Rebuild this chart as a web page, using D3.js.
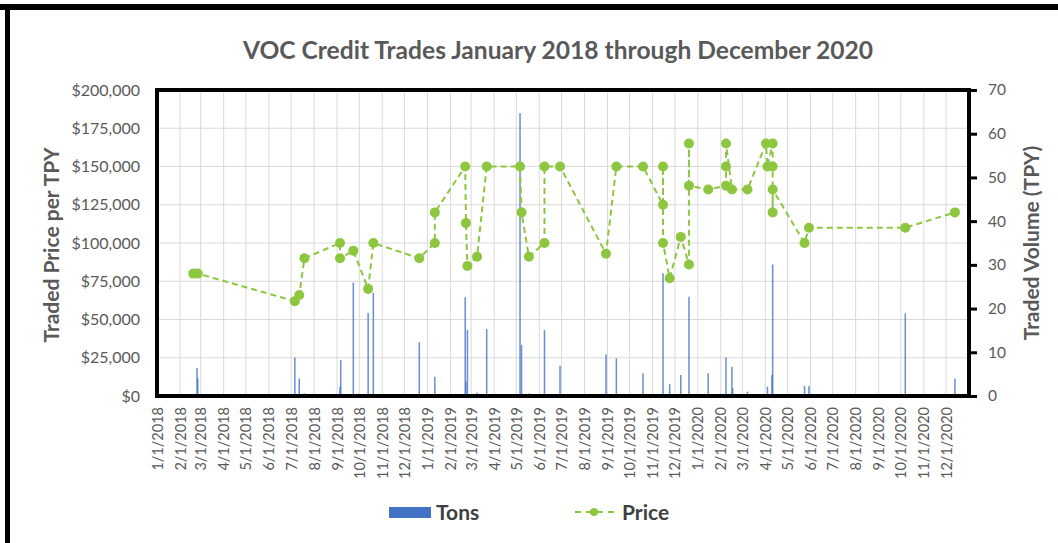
<!DOCTYPE html>
<html>
<head>
<meta charset="utf-8">
<script src="https://cdn.jsdelivr.net/npm/d3@7"></script>
<style>
  body { margin: 0; background: #fff; }
  text { font-family: Lato, "Open Sans", sans-serif; }
</style>
</head>
<body>
<div id="container"></div>
<script>
//DATA
// price points, in the order the line joins them
const priceDates = ["2018-02-19","2018-02-25","2018-07-06","2018-07-12","2018-07-19",
  "2018-09-05","2018-09-05","2018-09-23","2018-10-13","2018-10-20","2018-12-21",
  "2019-01-11","2019-01-11","2019-02-21","2019-02-22","2019-02-24","2019-03-09",
  "2019-03-22","2019-05-06","2019-05-08","2019-05-18","2019-06-08","2019-06-08",
  "2019-06-29","2019-08-30","2019-09-13","2019-10-19","2019-11-15","2019-11-15",
  "2019-11-15","2019-11-24","2019-12-09","2019-12-20","2019-12-20","2019-12-20",
  "2020-01-15","2020-02-08","2020-02-08","2020-02-08","2020-02-16","2020-03-08",
  "2020-04-02","2020-04-04","2020-04-11","2020-04-11","2020-04-11","2020-04-11",
  "2020-05-24","2020-05-30","2020-10-07","2020-12-13"];
const prices = [80000,80000,62000,66000,90000,
  100000,90000,95000,70000,100000,90000,
  100000,120000,150000,113000,85000,91000,
  150000,150000,120000,91000,100000,150000,
  150000,93000,150000,150000,125000,150000,
  100000,77000,104000,86000,165000,137500,
  135000,137500,150000,165000,135000,135000,
  165000,150000,165000,150000,120000,135000,
  100000,110000,110000,120000];

// traded tons
const tonDates = ["2018-02-24","2018-02-25","2018-07-06","2018-07-12","2018-07-19",
  "2018-09-06","2018-09-05","2018-09-23","2018-10-13","2018-10-20","2018-12-21",
  "2019-01-11","2019-02-21","2019-02-24","2019-02-22","2019-03-09","2019-03-22",
  "2019-05-06","2019-05-08","2019-05-18","2019-06-08","2019-06-29","2019-08-30",
  "2019-09-13","2019-10-19","2019-11-15","2019-11-24","2019-12-09","2019-12-20",
  "2020-01-15","2020-02-08","2020-02-16","2020-02-17","2020-03-08","2020-04-04",
  "2020-04-11","2020-04-10","2020-05-24","2020-05-30","2020-10-07","2020-12-13"];
const tons = [6.4,4.0,8.8,4.0,0.6,
  8.2,2.1,25.9,19.0,23.6,12.3,
  4.4,22.6,15.1,3.3,0.8,15.3,
  64.7,11.7,0.6,15.1,6.9,9.5,
  8.6,5.2,28.1,2.7,4.8,22.7,
  5.2,8.8,6.7,1.8,1.0,2.1,
  30.1,4.8,2.3,2.3,18.9,4.0];

const priceTicks = [0,25000,50000,75000,100000,125000,150000,175000,200000];
const tonTicks = [0,10,20,30,40,50,60,70];

const title = "VOC Credit Trades January 2018 through December 2020";

//PREP
const W = 1058, H = 543;
const plotL = 157, plotR = 969, plotT = 90, plotB = 396;
const grey = "#595959";
const green = "#8dc63f";
const blue = "#4472c4";

const parse = d3.timeParse("%Y-%m-%d");
const fmtDate = d3.timeFormat("%-m/%-d/%Y");
const fmtPrice = d3.format("$,");

const priceData = priceDates.map(function(d, i) { return {date: parse(d), value: prices[i]}; });
const tonData = tonDates.map(function(d, i) { return {date: parse(d), value: tons[i]}; });

const svg = d3.select("#container").append("svg")
    .attr("width", W)
    .attr("height", H);

//SCALES
const xScale = d3.scaleTime()
    .domain([new Date(2018, 0, 1), new Date(2021, 0, 1)])
    .range([plotL, plotR]);
const yPrice = d3.scaleLinear().domain([0, 200000]).range([plotB, plotT]);
const yTons = d3.scaleLinear().domain([0, 70]).range([plotB, plotT]);
const months = d3.timeMonth.range(new Date(2018, 0, 1), new Date(2021, 0, 1));

//OUTER FRAME (top and left edges only)
svg.append("rect").attr("x", 0).attr("y", 4).attr("width", W).attr("height", 6).attr("fill", "#000");
svg.append("rect").attr("x", 5).attr("y", 4).attr("width", 5).attr("height", H).attr("fill", "#000");

//TITLE
svg.append("text")
    .attr("x", 558).attr("y", 59)
    .attr("text-anchor", "middle")
    .attr("font-size", 24.6).attr("font-weight", 700)
    .attr("fill", grey)
    .text(title);

//GRID
svg.append("g")
    .selectAll("line.h")
    .data(priceTicks)
    .enter().append("line")
      .attr("x1", plotL).attr("x2", plotR)
      .attr("y1", function(d) { return yPrice(d); })
      .attr("y2", function(d) { return yPrice(d); })
      .attr("stroke", "#d9d9d9").attr("stroke-width", 1);

svg.append("g")
    .selectAll("line.v")
    .data(months)
    .enter().append("line")
      .attr("x1", function(d) { return xScale(d); })
      .attr("x2", function(d) { return xScale(d); })
      .attr("y1", plotT).attr("y2", plotB)
      .attr("stroke", "#d9d9d9").attr("stroke-width", 1);

//BARS (tons, right axis)
svg.append("g")
    .selectAll("rect")
    .data(tonData)
    .enter().append("rect")
      .attr("x", function(d) { return xScale(d.date) - 0.75; })
      .attr("width", 1.5)
      .attr("y", function(d) { return yTons(d.value); })
      .attr("height", function(d) { return plotB - yTons(d.value); })
      .attr("fill", blue)
      .attr("opacity", 0.8);

//PRICE LINE
const line = d3.line()
    .x(function(d) { return xScale(d.date); })
    .y(function(d) { return yPrice(d.value); });

svg.append("path")
    .datum(priceData)
    .attr("d", line)
    .attr("fill", "none")
    .attr("stroke", green)
    .attr("stroke-width", 2)
    .attr("stroke-dasharray", "6,4");

svg.append("g")
    .selectAll("circle")
    .data(priceData)
    .enter().append("circle")
      .attr("cx", function(d) { return xScale(d.date); })
      .attr("cy", function(d) { return yPrice(d.value); })
      .attr("r", 5)
      .attr("fill", green);

//PLOT BORDER
svg.append("rect")
    .attr("x", plotL).attr("y", plotT)
    .attr("width", plotR - plotL).attr("height", plotB - plotT)
    .attr("fill", "none")
    .attr("stroke", "#000").attr("stroke-width", 4);

//AXES
const yLeftGen = d3.axisLeft(yPrice).tickValues(priceTicks).tickFormat(fmtPrice).tickSize(0).tickPadding(17);
const yRightGen = d3.axisRight(yTons).tickValues(tonTicks).tickSize(8).tickPadding(11);
const xGen = d3.axisBottom(xScale).tickValues(months).tickFormat(fmtDate).tickSize(0);

const yLeft = svg.append("g")
    .attr("transform", "translate(" + plotL + ",0)")
    .call(yLeftGen);
yLeft.select(".domain").remove();
yLeft.selectAll(".tick text")
    .attr("font-size", 16).attr("fill", grey)
    .attr("font-family", "Lato, sans-serif");

const yRight = svg.append("g")
    .attr("transform", "translate(" + plotR + ",0)")
    .call(yRightGen);
yRight.select(".domain").remove();
yRight.selectAll(".tick line").attr("stroke", "#000").attr("stroke-width", 3);
yRight.selectAll(".tick text")
    .attr("font-size", 15.5).attr("fill", grey)
    .attr("font-family", "Lato, sans-serif");

const xAxis = svg.append("g")
    .attr("transform", "translate(0," + plotB + ")")
    .call(xGen);
xAxis.select(".domain").remove();
xAxis.selectAll(".tick text")
    .attr("transform", "translate(0,11) rotate(-90)")
    .attr("x", 0).attr("y", 0).attr("dy", "0.35em")
    .attr("text-anchor", "end")
    .attr("font-size", 14.5).attr("fill", grey)
    .attr("font-family", "Lato, sans-serif");

//AXIS TITLES
svg.append("text")
    .attr("transform", "translate(59,245) rotate(-90)")
    .attr("text-anchor", "middle")
    .attr("font-size", 21).attr("font-weight", 700)
    .attr("fill", grey)
    .text("Traded Price per TPY");

svg.append("text")
    .attr("transform", "translate(1039,243) rotate(-90)")
    .attr("text-anchor", "middle")
    .attr("font-size", 21).attr("font-weight", 700)
    .attr("fill", grey)
    .text("Traded Volume (TPY)");

//LEGEND
const legend = svg.append("g");
legend.append("rect")
    .attr("x", 389).attr("y", 507).attr("width", 42).attr("height", 11)
    .attr("fill", blue);
legend.append("text")
    .attr("x", 436).attr("y", 520)
    .attr("font-size", 21).attr("font-weight", 700).attr("fill", "#404040")
    .text("Tons");
legend.append("line")
    .attr("x1", 575).attr("x2", 614).attr("y1", 512).attr("y2", 512)
    .attr("stroke", green).attr("stroke-width", 2).attr("stroke-dasharray", "6,5");
legend.append("circle")
    .attr("cx", 594).attr("cy", 512).attr("r", 4).attr("fill", green);
legend.append("text")
    .attr("x", 622).attr("y", 520)
    .attr("font-size", 21).attr("font-weight", 700).attr("fill", "#404040")
    .text("Price");
</script>
</body>
</html>
